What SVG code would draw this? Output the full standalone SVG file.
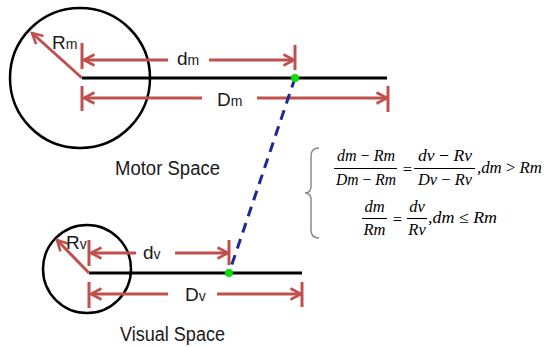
<svg xmlns="http://www.w3.org/2000/svg" width="545" height="347" viewBox="0 0 545 347">
<style>
.circ{fill:none;stroke:#000;stroke-width:2.5}
.axis{stroke:#000;stroke-width:3;fill:none}
.dim{stroke:#C0504D;stroke-width:3;fill:none}
.arr{stroke:#C0504D;stroke-width:3;fill:none;marker-end:url(#ah)}
.lbl{font-family:"Liberation Sans",Arial,sans-serif;fill:#1a1a1a}
.big{font-size:19px}
.sub{font-size:14px}
.title{font-family:"Liberation Sans",Arial,sans-serif;font-size:19.5px;fill:#1a1a1a}
.m{font-family:"Liberation Serif","Times New Roman",serif;font-size:16.5px;font-style:italic;fill:#000}
.up{font-style:normal}
.bar{stroke:#000;stroke-width:1.1}
.dot{fill:#00E600;stroke:#2bbf2b;stroke-width:0.8}
</style>
<defs>
<marker id="ah" viewBox="0 0 14 14" refX="12.5" refY="7" markerWidth="14" markerHeight="14" markerUnits="userSpaceOnUse" orient="auto">
<path d="M2,1.5 L12.5,7 L2,12.5" fill="none" stroke="#C0504D" stroke-width="2.6" stroke-linejoin="miter"/>
</marker>
</defs>
<rect width="545" height="347" fill="#fff"/>

<g id="motor-space">
<circle class="circ" cx="80" cy="78" r="70"/>
<line class="axis" x1="82" y1="78" x2="387" y2="78"/>
<line class="arr" x1="82" y1="78" x2="32" y2="33"/>
<text class="lbl" x="52" y="49"><tspan class="big">R</tspan><tspan class="sub">m</tspan></text>
<line class="dim" x1="82" y1="43" x2="82" y2="69"/>
<line class="arr" x1="168" y1="60" x2="84" y2="60"/>
<text class="lbl" x="177" y="65"><tspan class="big">d</tspan><tspan class="sub">m</tspan></text>
<line class="arr" x1="209" y1="60" x2="294" y2="60"/>
<line class="dim" x1="295" y1="45" x2="295" y2="70"/>
<line class="dim" x1="82" y1="86" x2="82" y2="111"/>
<line class="arr" x1="202" y1="98" x2="84" y2="98"/>
<text class="lbl" x="217" y="106"><tspan class="big">D</tspan><tspan class="sub">m</tspan></text>
<line class="arr" x1="257" y1="98" x2="387" y2="98"/>
<line class="dim" x1="388" y1="86" x2="388" y2="112"/>
<text class="title" x="115" y="175" textLength="105" lengthAdjust="spacingAndGlyphs">Motor Space</text>
</g>

<g id="visual-space">
<circle class="circ" cx="87" cy="269" r="44"/>
<line class="axis" x1="89" y1="273" x2="302" y2="273"/>
<line class="arr" x1="89" y1="273" x2="57" y2="240"/>
<text class="lbl" x="66" y="249"><tspan class="big">R</tspan><tspan class="sub">v</tspan></text>
<line class="dim" x1="89" y1="240" x2="89" y2="266"/>
<line class="arr" x1="136" y1="253" x2="91" y2="253"/>
<text class="lbl" x="143" y="259"><tspan class="big">d</tspan><tspan class="sub">v</tspan></text>
<line class="arr" x1="175" y1="253" x2="228" y2="253"/>
<line class="dim" x1="229" y1="240" x2="229" y2="265"/>
<line class="dim" x1="89" y1="282" x2="89" y2="308"/>
<line class="arr" x1="168" y1="294" x2="91" y2="294"/>
<text class="lbl" x="185" y="301"><tspan class="big">D</tspan><tspan class="sub">v</tspan></text>
<line class="arr" x1="217" y1="294" x2="301" y2="294"/>
<line class="dim" x1="302" y1="282" x2="302" y2="307"/>
<text class="title" x="120" y="341" textLength="105" lengthAdjust="spacingAndGlyphs">Visual Space</text>
</g>

<g id="connectors">
<line x1="295" y1="78" x2="229" y2="273" stroke="#1F2A8F" stroke-width="3" stroke-dasharray="10 7"/>
<circle class="dot" cx="295" cy="78" r="3.8"/>
<circle class="dot" cx="229" cy="273" r="3.8"/>
</g>

<g id="formula">
<path d="M319,148 Q311,148 311,156 L311,186 Q311,193 305,193 Q311,193 311,200 L311,230 Q311,238 319,238" fill="none" stroke="#8a8a8a" stroke-width="1.5"/>
<text class="m" x="366" y="161" text-anchor="middle" textLength="58" lengthAdjust="spacingAndGlyphs">dm <tspan class="up">−</tspan> Rm</text>
<line class="bar" x1="334" y1="168.5" x2="397" y2="168.5"/>
<text class="m" x="366" y="185" text-anchor="middle" textLength="60" lengthAdjust="spacingAndGlyphs">Dm <tspan class="up">−</tspan> Rm</text>
<text class="m up" x="407.5" y="175" text-anchor="middle">=</text>
<text class="m" x="445" y="161" text-anchor="middle" textLength="54" lengthAdjust="spacingAndGlyphs">dv <tspan class="up">−</tspan> Rv</text>
<line class="bar" x1="414" y1="168.5" x2="475" y2="168.5"/>
<text class="m" x="445" y="185" text-anchor="middle" textLength="54" lengthAdjust="spacingAndGlyphs">Dv <tspan class="up">−</tspan> Rv</text>
<text class="m" x="477" y="173" textLength="65" lengthAdjust="spacingAndGlyphs">,dm <tspan class="up">&gt;</tspan> Rm</text>

<text class="m" x="374.5" y="212" text-anchor="middle">dm</text>
<line class="bar" x1="362" y1="218.5" x2="387" y2="218.5"/>
<text class="m" x="374.5" y="235" text-anchor="middle">Rm</text>
<text class="m up" x="397.5" y="225" text-anchor="middle">=</text>
<text class="m" x="417" y="212" text-anchor="middle">dv</text>
<line class="bar" x1="407" y1="218.5" x2="427" y2="218.5"/>
<text class="m" x="417" y="235" text-anchor="middle">Rv</text>
<text class="m" x="428" y="223" textLength="69" lengthAdjust="spacingAndGlyphs">,dm <tspan class="up">≤</tspan> Rm</text>
</g>
</svg>
